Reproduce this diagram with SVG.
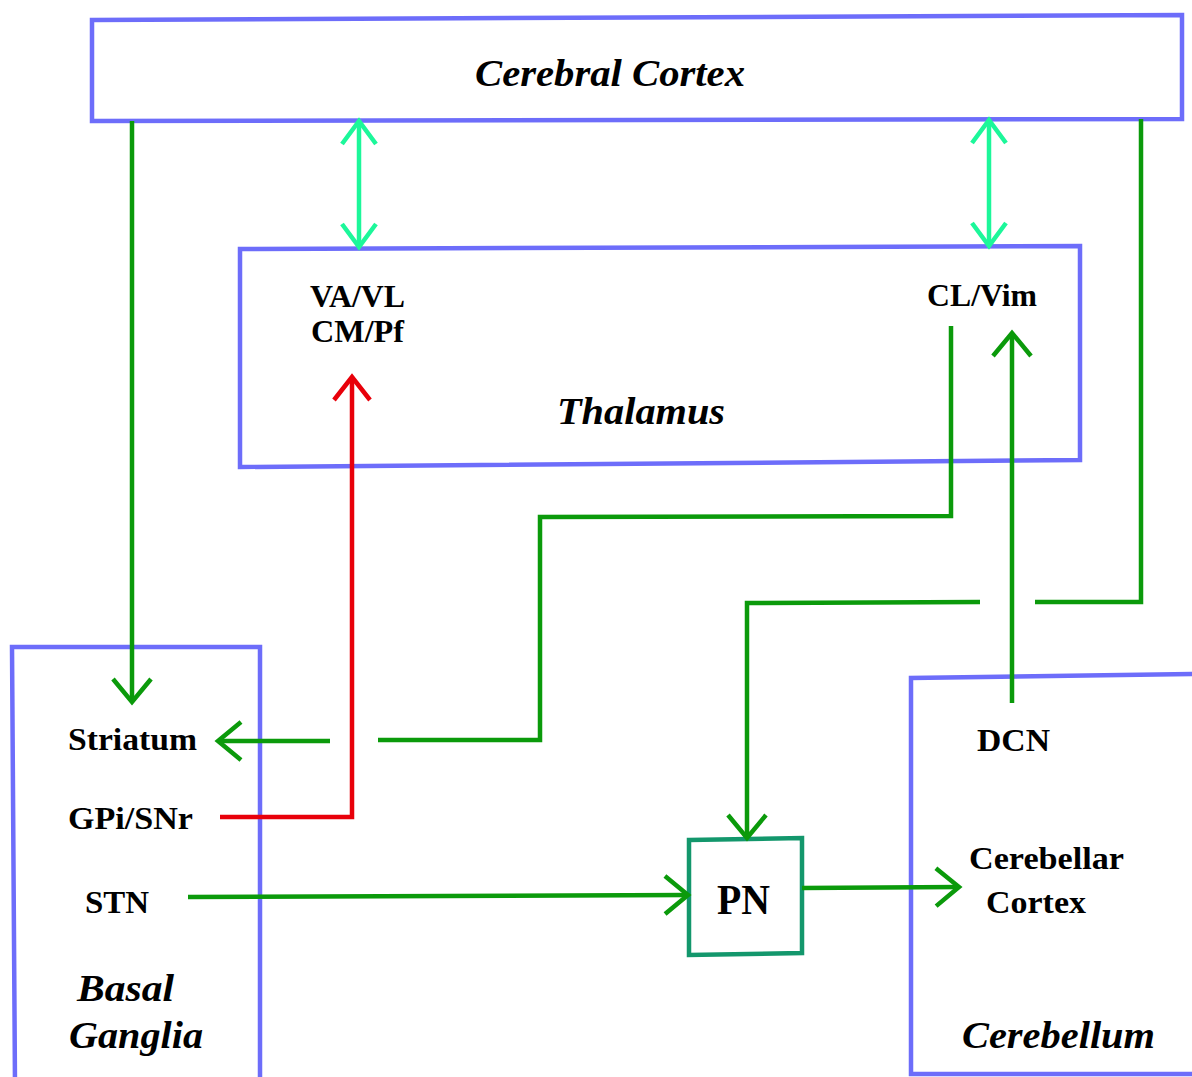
<svg xmlns="http://www.w3.org/2000/svg" width="1192" height="1077" viewBox="0 0 1192 1077">
<style>
.box{fill:none;stroke:#6d6dfa;stroke-width:4.5}
.pn{fill:none;stroke:#13976c;stroke-width:4.5}
.g{fill:none;stroke:#0b9a0b;stroke-width:4.5}
.r{fill:none;stroke:#e8000a;stroke-width:4.5}
.c{fill:none;stroke:#1cf79a;stroke-width:4.5}
text{font-family:"Liberation Serif","Times New Roman",serif;font-weight:bold;fill:#000}
.t{font-size:32px}
.ti{font-size:38px;font-style:italic}
</style>
<defs>
<marker id="ag" markerUnits="userSpaceOnUse" viewBox="-30 -25 35 50" markerWidth="35" markerHeight="50" refX="0" refY="0" orient="auto" overflow="visible">
<path d="M-23,-19 L0,0 L-23,19" fill="none" stroke="#0b9a0b" stroke-width="4.5"/>
</marker>
<marker id="ar" markerUnits="userSpaceOnUse" viewBox="-30 -25 35 50" markerWidth="35" markerHeight="50" refX="0" refY="0" orient="auto" overflow="visible">
<path d="M-23,-18 L0,0 L-23,18" fill="none" stroke="#e8000a" stroke-width="4.5"/>
</marker>
<marker id="ac" markerUnits="userSpaceOnUse" viewBox="-30 -25 35 50" markerWidth="35" markerHeight="50" refX="0" refY="0" orient="auto-start-reverse" overflow="visible">
<path d="M-23,-17 L0,0 L-23,17" fill="none" stroke="#1cf79a" stroke-width="4.5"/>
</marker>
</defs>

<g id="cortex">
<polygon class="box" points="92,20 1182,15 1182,119 92,121"/>
<text class="ti" x="475" y="86" textLength="270" lengthAdjust="spacingAndGlyphs">Cerebral Cortex</text>
</g>

<g id="thalamus">
<polygon class="box" points="240,249 1080,246 1080,460 240,467"/>
<text class="t" x="310" y="307" textLength="95" lengthAdjust="spacingAndGlyphs">VA/VL</text>
<text class="t" x="311" y="342" textLength="93" lengthAdjust="spacingAndGlyphs">CM/Pf</text>
<text class="t" x="927" y="306" textLength="110" lengthAdjust="spacingAndGlyphs">CL/Vim</text>
<text class="ti" x="557" y="424" textLength="168" lengthAdjust="spacingAndGlyphs">Thalamus</text>
</g>

<g id="basal-ganglia">
<polyline class="box" points="15,1085 12,647 260,647 260,1085"/>
<text class="t" x="68" y="750" textLength="129" lengthAdjust="spacingAndGlyphs">Striatum</text>
<text class="t" x="68" y="829" textLength="125" lengthAdjust="spacingAndGlyphs">GPi/SNr</text>
<text class="t" x="85" y="913" textLength="64" lengthAdjust="spacingAndGlyphs">STN</text>
<text class="ti" x="77" y="1001" textLength="97" lengthAdjust="spacingAndGlyphs">Basal</text>
<text class="ti" x="69" y="1048" textLength="134" lengthAdjust="spacingAndGlyphs">Ganglia</text>
</g>

<g id="cerebellum">
<polyline class="box" points="1197,674 911,678 911,1074 1197,1074"/>
<text class="t" x="977" y="751" textLength="73" lengthAdjust="spacingAndGlyphs">DCN</text>
<text class="t" x="969" y="869" textLength="155" lengthAdjust="spacingAndGlyphs">Cerebellar</text>
<text class="t" x="986" y="913" textLength="100" lengthAdjust="spacingAndGlyphs">Cortex</text>
<text class="ti" x="962" y="1048" textLength="193" lengthAdjust="spacingAndGlyphs">Cerebellum</text>
</g>

<g id="pn">
<polygon class="pn" points="689,840 802,838 802,953 689,955"/>
<text x="717" y="914" style="font-size:42px" textLength="53" lengthAdjust="spacingAndGlyphs">PN</text>
</g>

<g id="connectors">
<path class="g" d="M132,121 V702" marker-end="url(#ag)"/>
<path class="c" d="M359,121 V247" marker-start="url(#ac)" marker-end="url(#ac)"/>
<path class="c" d="M989,120 V246" marker-start="url(#ac)" marker-end="url(#ac)"/>
<path class="g" d="M1141,119 V602 H1035"/>
<path class="g" d="M980,602 L747,603 V838" marker-end="url(#ag)"/>
<path class="g" d="M951,326 V516 L540,517 V740 H378"/>
<path class="g" d="M330,741 H218" marker-end="url(#ag)"/>
<path class="g" d="M1012,703 V333" marker-end="url(#ag)"/>
<path class="r" d="M220,817 H352 V377" marker-end="url(#ar)"/>
<path class="g" d="M188,897 L688,895" marker-end="url(#ag)"/>
<path class="g" d="M802,888 L959,887" marker-end="url(#ag)"/>
</g>
</svg>
